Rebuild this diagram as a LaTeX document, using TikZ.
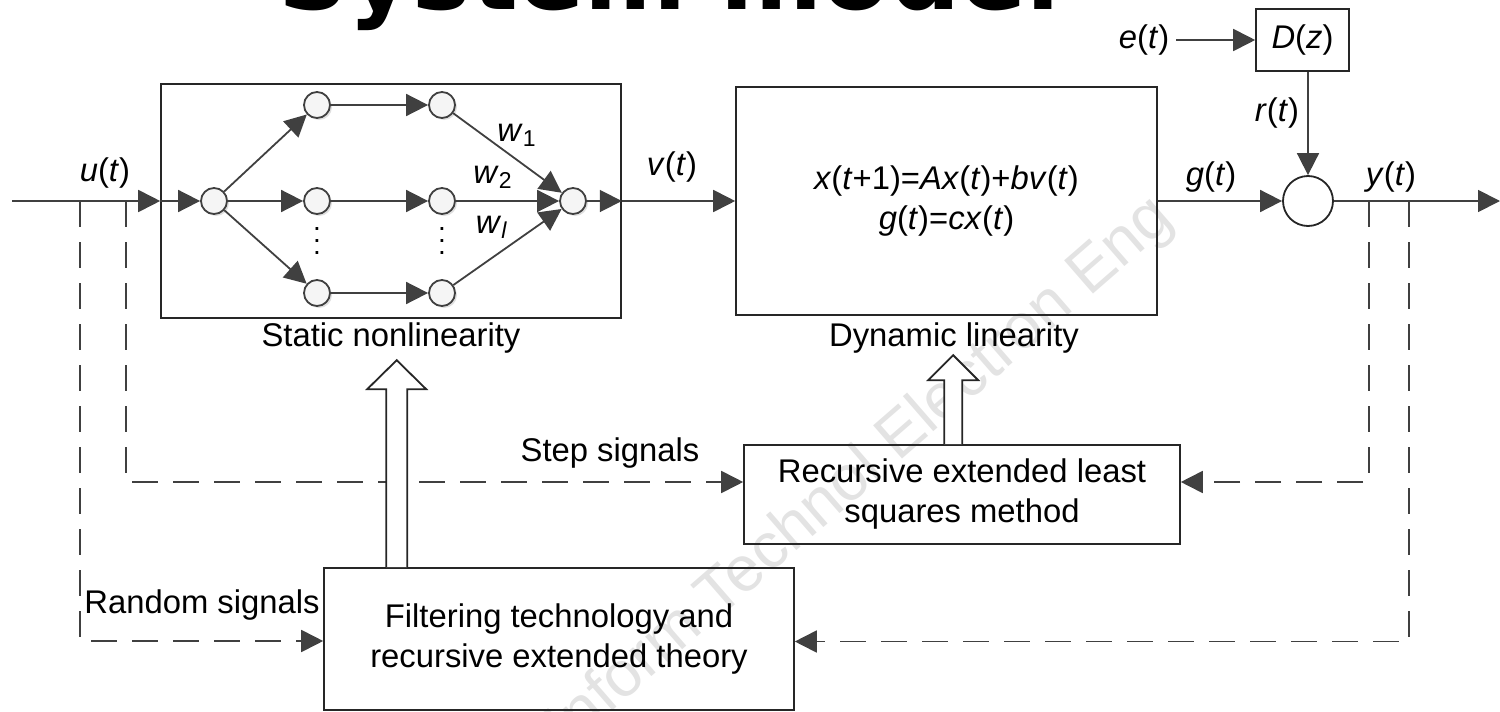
\documentclass[tikz,border=0pt]{standalone}
\usepackage{fontspec}
\setmainfont{Liberation Sans}
\newfontfamily\titlefont{DejaVu Sans}
\usepackage{tikz}
\usetikzlibrary{arrows.meta,positioning,shadows,calc}
\newcommand{\vi}[1]{\textit{#1}}

\begin{document}
\begin{tikzpicture}[x=0.5pt,y=-0.5pt,>={Triangle[length=11pt,width=11pt]},every node/.style={font=\fontsize{16.4}{20}\selectfont,align=center},block/.style={draw=black!85,line width=0.8pt,inner sep=0pt},neuron/.style={circle,draw=black!75,line width=0.9pt,fill=gray!8,minimum size=13pt,inner sep=0pt,drop shadow={opacity=0.25,shadow xshift=1pt,shadow yshift=-1pt}},sig/.style={->,draw=black!75,line width=0.9pt},fb/.style={->,draw=black!75,line width=0.9pt,dash pattern=on 13pt off 7.5pt},hollow/.style={draw=black!85,line width=0.9pt,fill=white},wmark/.style={rotate=41,text=gray!22,font=\fontsize{32}{36}\selectfont}]
\useasboundingbox (0,0) rectangle (1500,712);
\clip (0,0) rectangle (1500,712);
\node[wmark] (wm) at (842,490) {J Inform Technol Electron Eng};
\node[anchor=base west,inner sep=0pt,font=\titlefont\bfseries\fontsize{49}{55}\selectfont] (title) at (278,10) {System model};
% blocks
\node[block,minimum width=230pt,minimum height=117pt] (snl) at (391,201) {};
\node[block,minimum width=210.5pt,minimum height=114pt] (dl) at (946.5,201) {\vi{x}(\vi{t}+1)=\vi{A}\vi{x}(\vi{t})+\vi{b}\vi{v}(\vi{t})\\\vi{g}(\vi{t})=\vi{c}\vi{x}(\vi{t})};
\node[block,minimum width=46.5pt,minimum height=31pt] (dz) at (1302.5,40) {\vi{D}(\vi{z})};
\node[circle,draw=black!85,line width=0.9pt,minimum size=25pt,inner sep=0pt] (sum) at (1308,201) {};
\node[block,minimum width=218pt,minimum height=49.5pt] (rels) at (962,494.5) {Recursive extended least\\squares method};
\node[block,minimum width=235pt,minimum height=71pt] (filt) at (559,639) {Filtering technology and\\recursive extended theory};
\node (snllbl) at (391,338) {Static nonlinearity};
\node (dllbl) at (954,338) {Dynamic linearity};
% network inside the static block
\node[neuron] (n0) at (214,201) {};
\node[neuron] (n11) at (317,105) {}; \node[neuron] (n12) at (442,105) {};
\node[neuron] (n21) at (317,201) {}; \node[neuron] (n22) at (442,201) {};
\node[neuron] (n31) at (317,293) {}; \node[neuron] (n32) at (442,293) {};
\node[neuron] (nout) at (573,201) {};
\node[inner sep=0pt,font=\fontsize{14}{6}\selectfont] (dots1) at (317,241) {.\\.\\.};
\node[inner sep=0pt,font=\fontsize{14}{6}\selectfont] (dots2) at (442,241) {.\\.\\.};
\draw[sig] (n0) -- (n11); \draw[sig] (n0) -- (n21); \draw[sig] (n0) -- (n31);
\draw[sig] (n11) -- (n12); \draw[sig] (n21) -- (n22); \draw[sig] (n31) -- (n32);
\draw[sig] (n12) -- (nout); \draw[sig] (n22) -- (nout); \draw[sig] (n32) -- (nout);
\node[inner sep=0pt] (w1) at (517,135) {\vi{w}\textsubscript{1}};
\node[inner sep=0pt] (w2) at (493,177) {\vi{w}\textsubscript{2}};
\node[inner sep=0pt] (wl) at (492,227) {\vi{w}\textsubscript{\vi{l}}};
% signal path
\coordinate (uin) at (12,201);
\coordinate (yout) at (1500,201);
\draw[sig] (uin) -- (snl.west); \draw[sig] (snl.west) -- (n0);
\draw[sig] (nout) -- (snl.east); \draw[sig] (snl.east) -- (dl.west);
\draw[sig] (dl.east) -- (sum.west); \draw[sig] (sum.east) -- (yout);
\node (et) at (1144,40) {\vi{e}(\vi{t})};
\draw[sig] (et.east) -- (dz.west);
\draw[sig] (dz.south -| sum.north) -- (sum.north);
\node (ut) at (105,173) {\vi{u}(\vi{t})};
\node (vt) at (672,167) {\vi{v}(\vi{t})};
\node (gt) at (1211,177) {\vi{g}(\vi{t})};
\node (yt) at (1391,177) {\vi{y}(\vi{t})};
\node (rt) at (1277,113) {\vi{r}(\vi{t})};
% identification signals
\coordinate (j1) at (80,201); \coordinate (j2) at (126,201);
\coordinate (j3) at (1369,201); \coordinate (j4) at (1409,201);
\draw[fb] (j1) |- ([yshift=-1pt]filt.west);
\draw[fb] (j2) |- ([yshift=6.25pt]rels.west);
\draw[fb] (j3) |- ([yshift=6.25pt]rels.east);
\draw[fb] (j4) |- ([yshift=-1.25pt]filt.east);
\node (step) at (610,453) {Step signals};
\node (rand) at (202,605) {Random signals};
% hollow arrows
\draw[hollow] ($(filt.north west)+(63,0)$) -- ++(0,-178) -- ++(-19,0) -- ++(29.5,-29) -- ++(29.5,29) -- ++(-19,0) -- ++(0,178);
\draw[hollow] ($(rels.north west)+(201,0)$) -- ++(0,-64) -- ++(-16,0) -- ++(25,-25) -- ++(25,25) -- ++(-16,0) -- ++(0,64);
\end{tikzpicture}
\end{document}
